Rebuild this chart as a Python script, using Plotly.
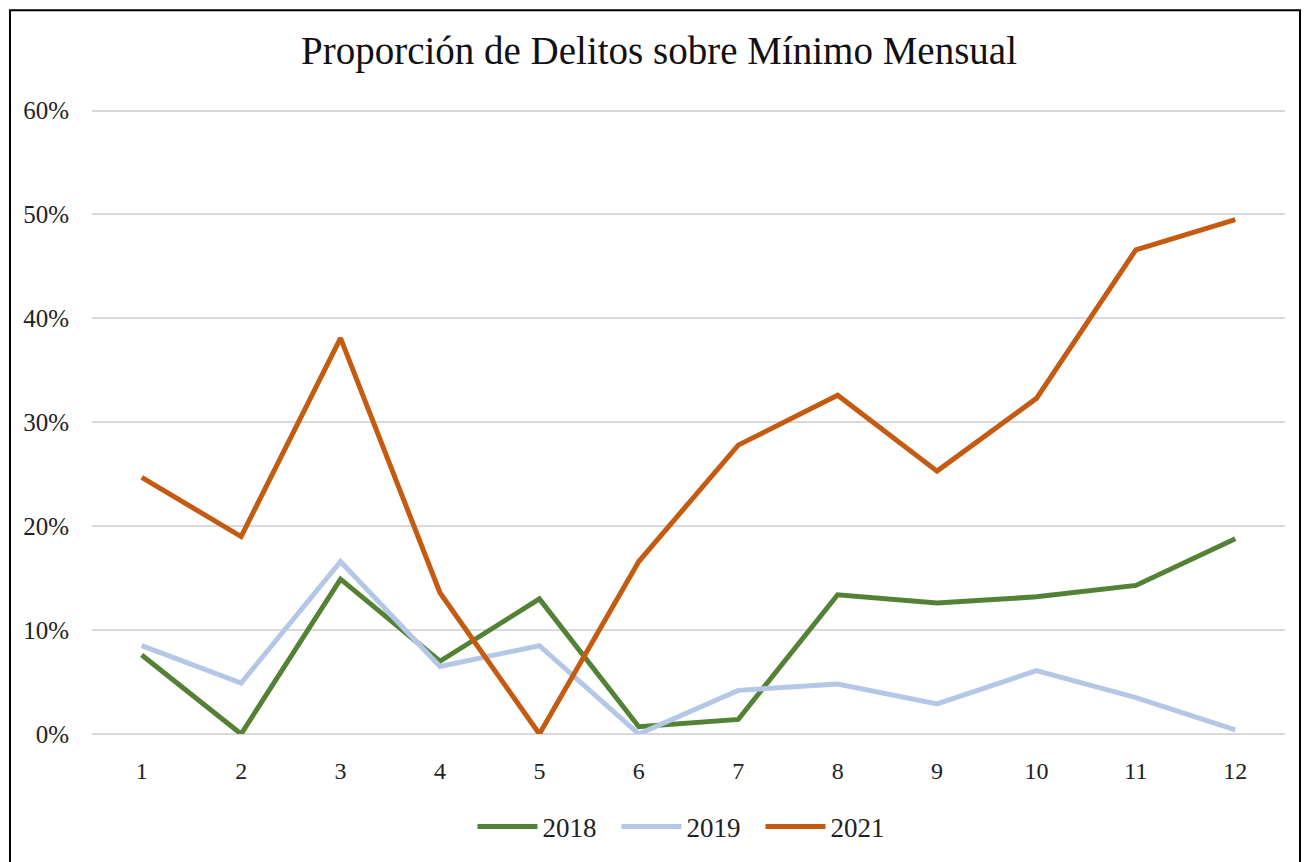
import plotly.graph_objects as go

# months 1..12
months = list(range(1, 13))
month_labels = [str(m) for m in months]

# share of crimes over monthly minimum, per year
delitos_2018 = [0.076, 0.0, 0.149, 0.070, 0.130, 0.007, 0.014, 0.134, 0.126, 0.132, 0.143, 0.188]
delitos_2019 = [0.085, 0.049, 0.166, 0.065, 0.085, 0.0, 0.042, 0.048, 0.029, 0.061, 0.035, 0.004]
delitos_2021 = [0.247, 0.190, 0.381, 0.136, 0.0, 0.166, 0.278, 0.326, 0.253, 0.323, 0.466, 0.495]

y_ticks = [0, 0.1, 0.2, 0.3, 0.4, 0.5, 0.6]
y_tick_labels = ["0%", "10%", "20%", "30%", "40%", "50%", "60%"]

FONT = "Liberation Serif"
# the page body adds an 8px offset, so the figure is drawn 8px smaller
W, H = 1302, 854
L, T, R, B = 84, 101, 25, 127
PW, PH = W - L - R, H - T - B

fig = go.Figure()
for name, vals, color in [("2018", delitos_2018, "#548235"),
                          ("2019", delitos_2019, "#B4C7E7"),
                          ("2021", delitos_2021, "#C55A11")]:
    fig.add_trace(go.Scatter(
        x=months, y=vals, name=name, mode="lines",
        line=dict(color=color, width=5),
    ))

fig.update_layout(
    width=W, height=H,
    margin=dict(l=L, r=R, t=T, b=B),
    paper_bgcolor="white", plot_bgcolor="white",
    font=dict(family=FONT, size=24, color="#222222"),
    title=dict(text="Proporción de Delitos sobre Mínimo Mensual",
               x=0.5, xanchor="center", y=1 - 42 / H, yanchor="middle",
               font=dict(family=FONT, size=39, color="#111111")),
    legend=dict(orientation="h", x=0.5, xanchor="center",
                y=-92 / PH, yanchor="middle",
                font=dict(family=FONT, size=27, color="#222222"),
                itemwidth=60, entrywidth=69, entrywidthmode="pixels"),
    showlegend=True,
)

fig.update_xaxes(
    range=[0.5, 12.5], tickvals=months, ticktext=month_labels,
    showgrid=False, zeroline=False, showline=False, ticks="",
    ticklabelstandoff=20,
)
fig.update_yaxes(
    range=[0, 0.6015], tickvals=y_ticks, ticktext=y_tick_labels,
    showgrid=True, gridcolor="#D9D9D9", gridwidth=1.5,
    zeroline=True, zerolinecolor="#D9D9D9", zerolinewidth=1.5,
    showline=False, ticks="", ticklabelstandoff=22,
    tickfont=dict(size=25),
)

# outer chart border
fig.add_shape(type="rect", xref="paper", yref="paper",
              x0=(2 - L) / PW, x1=(1292 - L) / PW,
              y0=-(B + 30) / PH, y1=(PH + T - 2) / PH,
              line=dict(color="black", width=2), fillcolor="rgba(0,0,0,0)",
              layer="below")

fig.write_html("out.html")
